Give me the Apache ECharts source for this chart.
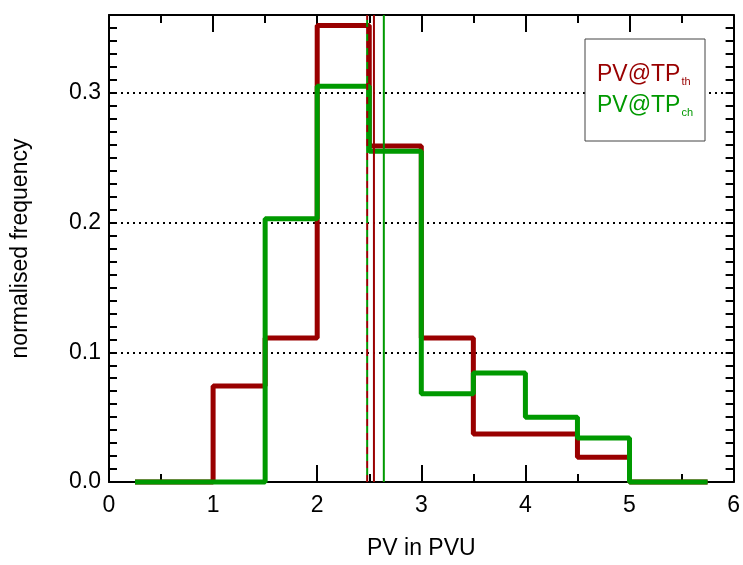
<!DOCTYPE html>
<html>
<head>
<meta charset="utf-8">
<script src="https://cdn.jsdelivr.net/npm/echarts@6/dist/echarts.min.js"></script>
<style>
  html, body { margin: 0; padding: 0; background: #fff; }
  #chart { width: 743px; height: 565px; }
</style>
</head>
<body>
<div id="chart"></div>
<script>
// bin centres (bins 0.5 PVU wide), drawn IDL psym=10 style
const binCentres = [0.25, 0.75, 1.25, 1.75, 2.25, 2.75, 3.25, 3.75, 4.25, 4.75, 5.25, 5.75];
const freqTh = [0, 0, 0.074, 0.111, 0.352, 0.259, 0.111, 0.037, 0.037, 0.019, 0, 0];
const freqCh = [0, 0, 0, 0.203, 0.305, 0.255, 0.068, 0.084, 0.050, 0.034, 0, 0];

// vertical reference lines (dashed + solid per series)
const dashedTh = 2.48;
const dashedCh = 2.48;
const solidTh = 2.545;
const solidCh = 2.64;

const xTicks = [0, 1, 2, 3, 4, 5, 6];
const yTickLabels = ['0.0', '0.1', '0.2', '0.3'];
const yMax = 0.36;

const RED = '#990000';
const GREEN = '#009900';
const FONT = 'Liberation Sans';

const pairs = (ys) => binCentres.map((x, i) => [x, ys[i]]);
const vline = (x) => [[x, 0], [x, yMax]];

const chart = echarts.init(document.getElementById('chart'));

const xBase = {
    type: 'value',
    min: xTicks[0],
    max: xTicks[xTicks.length - 1],
    interval: 1,
    axisLine: { show: true, onZero: false, lineStyle: { color: '#000', width: 2 } },
    axisTick: { show: true, inside: true, length: 17, lineStyle: { color: '#000', width: 2 } },
    minorTick: { show: true, splitNumber: 2, length: 8, lineStyle: { color: '#000', width: 2 } },
    splitLine: { show: false }
};

const yBase = {
    type: 'value',
    min: 0,
    max: yMax,
    interval: 0.01,
    axisLine: { show: true, onZero: false, lineStyle: { color: '#000', width: 2 } },
    axisTick: { show: true, inside: true, length: 8, lineStyle: { color: '#000', width: 2 } },
    splitLine: { show: false }
};

const legendText = (label, sub, colour, y) => ({
    type: 'text',
    x: 597,
    y: y,
    z: 11,
    style: {
        text: '{m|' + label + '}{s|' + sub + '}',
        rich: {
            m: { fontFamily: FONT, fontSize: 23, fill: colour, lineHeight: 24 },
            s: { fontFamily: FONT, fontSize: 11, fill: colour, verticalAlign: 'bottom', lineHeight: 12, padding: [0, 0, 0, 1] }
        }
    }
});

const option = {
    animation: false,
    backgroundColor: '#fff',
    grid: { left: 109, right: 6, top: 15, bottom: 79, containLabel: false },
    xAxis: [
        {
            ...xBase,
            position: 'bottom',
            name: 'PV in PVU',
            nameLocation: 'middle',
            nameGap: 55,
            nameTextStyle: { fontFamily: FONT, fontSize: 23, color: '#000' },
            axisLabel: {
                margin: 12,
                fontFamily: FONT,
                fontSize: 23,
                color: '#000',
                formatter: (v) => xTicks.includes(v) ? String(v) : ''
            }
        },
        { ...xBase, position: 'top', axisLabel: { show: false } }
    ],
    yAxis: [
        {
            ...yBase,
            position: 'left',
            name: 'normalised frequency',
            nameLocation: 'middle',
            nameGap: 77,
            nameTextStyle: { fontFamily: FONT, fontSize: 23, color: '#000' },
            axisLabel: {
                margin: 8,
                fontFamily: FONT,
                fontSize: 23,
                color: '#000',
                formatter: (v) => {
                    const k = Math.round(v * 10);
                    return Math.abs(v * 10 - k) < 1e-6 && yTickLabels[k] ? yTickLabels[k] : '';
                }
            }
        },
        { ...yBase, position: 'right', axisLabel: { show: false } },
        {
            // only for the dotted grid lines at 0.1 steps
            type: 'value',
            position: 'left',
            min: 0,
            max: yMax,
            interval: 0.1,
            axisLine: { show: false },
            axisTick: { show: false },
            axisLabel: { show: false },
            splitLine: { show: true, lineStyle: { color: '#000', width: 2, type: [2, 4] } }
        }
    ],
    series: [
        {
            type: 'line',
            step: 'middle',
            data: pairs(freqTh),
            symbol: 'none',
            clip: false,
            lineStyle: { color: RED, width: 5 },
            z: 3
        },
        {
            type: 'line',
            step: 'middle',
            data: pairs(freqCh),
            symbol: 'none',
            clip: false,
            lineStyle: { color: GREEN, width: 5 },
            z: 4
        },
        {
            type: 'line',
            data: vline(dashedTh),
            symbol: 'none',
            lineStyle: { color: RED, width: 2, type: [7, 7] },
            z: 5
        },
        {
            type: 'line',
            data: vline(dashedCh),
            symbol: 'none',
            lineStyle: { color: GREEN, width: 2, type: [7, 7], dashOffset: 7 },
            z: 5
        },
        {
            type: 'line',
            data: vline(solidTh),
            symbol: 'none',
            lineStyle: { color: RED, width: 2 },
            z: 5
        },
        {
            type: 'line',
            data: vline(solidCh),
            symbol: 'none',
            lineStyle: { color: GREEN, width: 2 },
            z: 5
        }
    ],
    graphic: [
        {
            type: 'rect',
            shape: { x: 585, y: 39, width: 120, height: 102 },
            style: { fill: '#fff', stroke: '#444', lineWidth: 1 },
            z: 10
        },
        legendText('PV@TP', 'th', RED, 63),
        legendText('PV@TP', 'ch', GREEN, 94)
    ]
};

chart.setOption(option);
</script>
</body>
</html>
